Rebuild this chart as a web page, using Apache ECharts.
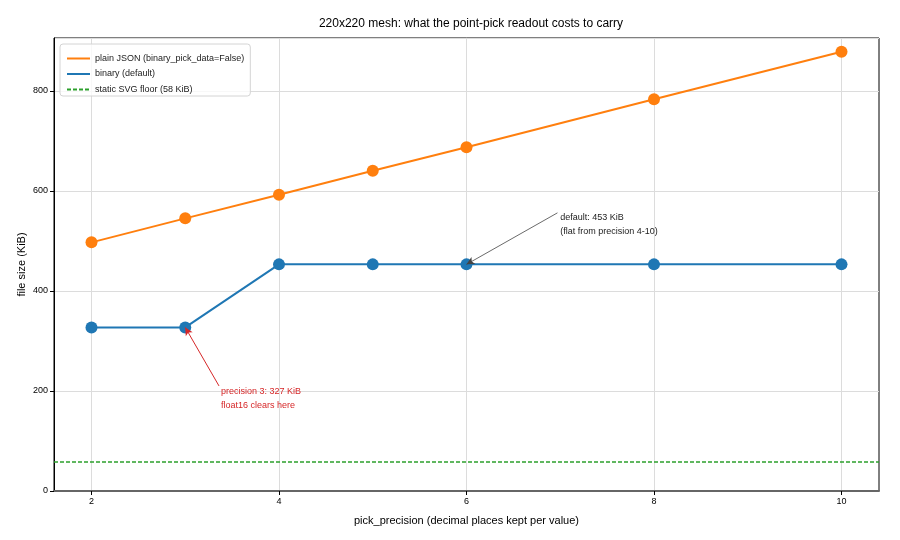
<!DOCTYPE html>
<html>
<head>
<meta charset="utf-8">
<script src="https://cdn.jsdelivr.net/npm/echarts@6/dist/echarts.min.js"></script>
<style>
  html, body { margin: 0; padding: 0; background: #fff; }
  #main-chart { width: 900px; height: 540px; }
</style>
</head>
<body>
<div id="main-chart"></div>
<script>
// pick_precision values and file sizes (KiB)
const precisions = [2, 3, 4, 5, 6, 8, 10];
const plainJson = [497, 545, 592, 640, 687, 783, 878];
const binaryDefault = [327, 327, 453, 453, 453, 453, 453];
const svgFloor = 58;
const xRange = [1.6, 10.4];
const xTicks = [2, 4, 6, 8, 10];

const font = 'Liberation Sans, Arial, sans-serif';

let chartDom = document.getElementById('main-chart');
let myChart = echarts.init(chartDom);

const pairs = (xs, ys) => xs.map((x, i) => [x, ys[i]]);

let option = {
    backgroundColor: '#fff',
    animation: false,
    textStyle: { fontFamily: font },
    title: {
        text: '220x220 mesh: what the point-pick readout costs to carry',
        left: 466, textAlign: 'center',
        top: 13,
        textStyle: { fontSize: 12, fontWeight: 'normal', color: '#000', fontFamily: font }
    },
    grid: {
        left: 54, right: 21, top: 38, bottom: 49,
        show: true, borderColor: '#000', borderWidth: 1,
        containLabel: false
    },
    legend: {
        left: 60, top: 44,
        orient: 'vertical',
        itemWidth: 23, itemHeight: 11, itemGap: 6.5,
        padding: [10, 6, 2, 6],
        borderColor: '#d4d4d4', borderWidth: 1, borderRadius: 3,
        backgroundColor: 'rgba(255,255,255,0.8)',
        textStyle: { fontSize: 9, color: '#222', fontFamily: font },
        itemStyle: { opacity: 0 },
        data: ['plain JSON (binary_pick_data=False)', 'binary (default)', 'static SVG floor (58 KiB)']
    },
    xAxis: {
        type: 'value',
        min: xRange[0], max: xRange[1],
        name: 'pick_precision (decimal places kept per value)',
        nameLocation: 'middle', nameGap: 24,
        nameTextStyle: { fontSize: 11, color: '#000' },
        axisLine: { show: true, onZero: false, lineStyle: { color: '#666', width: 2 } },
        axisTick: { show: true, inside: false, length: 4, lineStyle: { color: '#000' }, customValues: xTicks },
        axisLabel: { fontSize: 9, color: '#000', margin: 6, customValues: xTicks },
        splitLine: { show: true, lineStyle: { color: '#dcdcdc' } }
    },
    yAxis: {
        type: 'value',
        min: 0, max: 905.5, interval: 200,
        name: 'file size (KiB)',
        nameLocation: 'middle', nameGap: 27, nameMoveOverlap: false,
        nameTextStyle: { fontSize: 11, color: '#000' },
        axisLine: { show: true, lineStyle: { color: '#000' } },
        axisTick: { show: true, length: 4, lineStyle: { color: '#000' } },
        axisLabel: { fontSize: 9, color: '#000', margin: 6, showMaxLabel: false },
        splitLine: { show: true, lineStyle: { color: '#dcdcdc' } }
    },
    series: [
        {
            name: 'plain JSON (binary_pick_data=False)',
            type: 'line',
            data: pairs(precisions, plainJson),
            symbol: 'circle', symbolSize: 12,
            itemStyle: { color: '#ff7f0e' },
            lineStyle: { color: '#ff7f0e', width: 2 },
            z: 3
        },
        {
            name: 'binary (default)',
            type: 'line',
            data: pairs(precisions, binaryDefault),
            symbol: 'circle', symbolSize: 12,
            itemStyle: { color: '#1f77b4' },
            lineStyle: { color: '#1f77b4', width: 2 },
            z: 3,
            markLine: {
                silent: true,
                symbol: ['none', 'arrow'], symbolSize: [6, 8],
                label: { show: false },
                data: [
                    [{ coord: [6.97, 556], lineStyle: { color: '#444', width: 0.8, type: 'solid' } }, { coord: [6, 453] }],
                    [{ coord: [3.36, 210], lineStyle: { color: '#d62728', width: 1, type: 'solid' } }, { coord: [3, 327] }]
                ]
            }
        },
        {
            name: 'static SVG floor (58 KiB)',
            type: 'line',
            data: [[xRange[0], svgFloor], [xRange[1], svgFloor]],
            symbol: 'none',
            itemStyle: { color: '#2ca02c' },
            lineStyle: { color: '#2ca02c', width: 1.3, type: [4, 2] },
            z: 2
        }
    ]
};

myChart.setOption(option);

// annotation text placed at data coordinates
const notes = [
    { at: [7.0, 548], lines: ['default: 453 KiB', '(flat from precision 4-10)'], color: '#222' },
    { at: [3.38, 200], lines: ['precision 3: 327 KiB', 'float16 clears here'], color: '#d62728' }
];
myChart.setOption({
    graphic: notes.map(n => {
        const p = myChart.convertToPixel({ gridIndex: 0 }, n.at);
        return {
            type: 'text', x: p[0], y: p[1] - 7,
            style: {
                text: n.lines.join('\n'), fill: n.color,
                font: '9px ' + font, lineHeight: 14.5,
                textAlign: 'left', textVerticalAlign: 'top'
            }
        };
    })
});
</script>
</body>
</html>
